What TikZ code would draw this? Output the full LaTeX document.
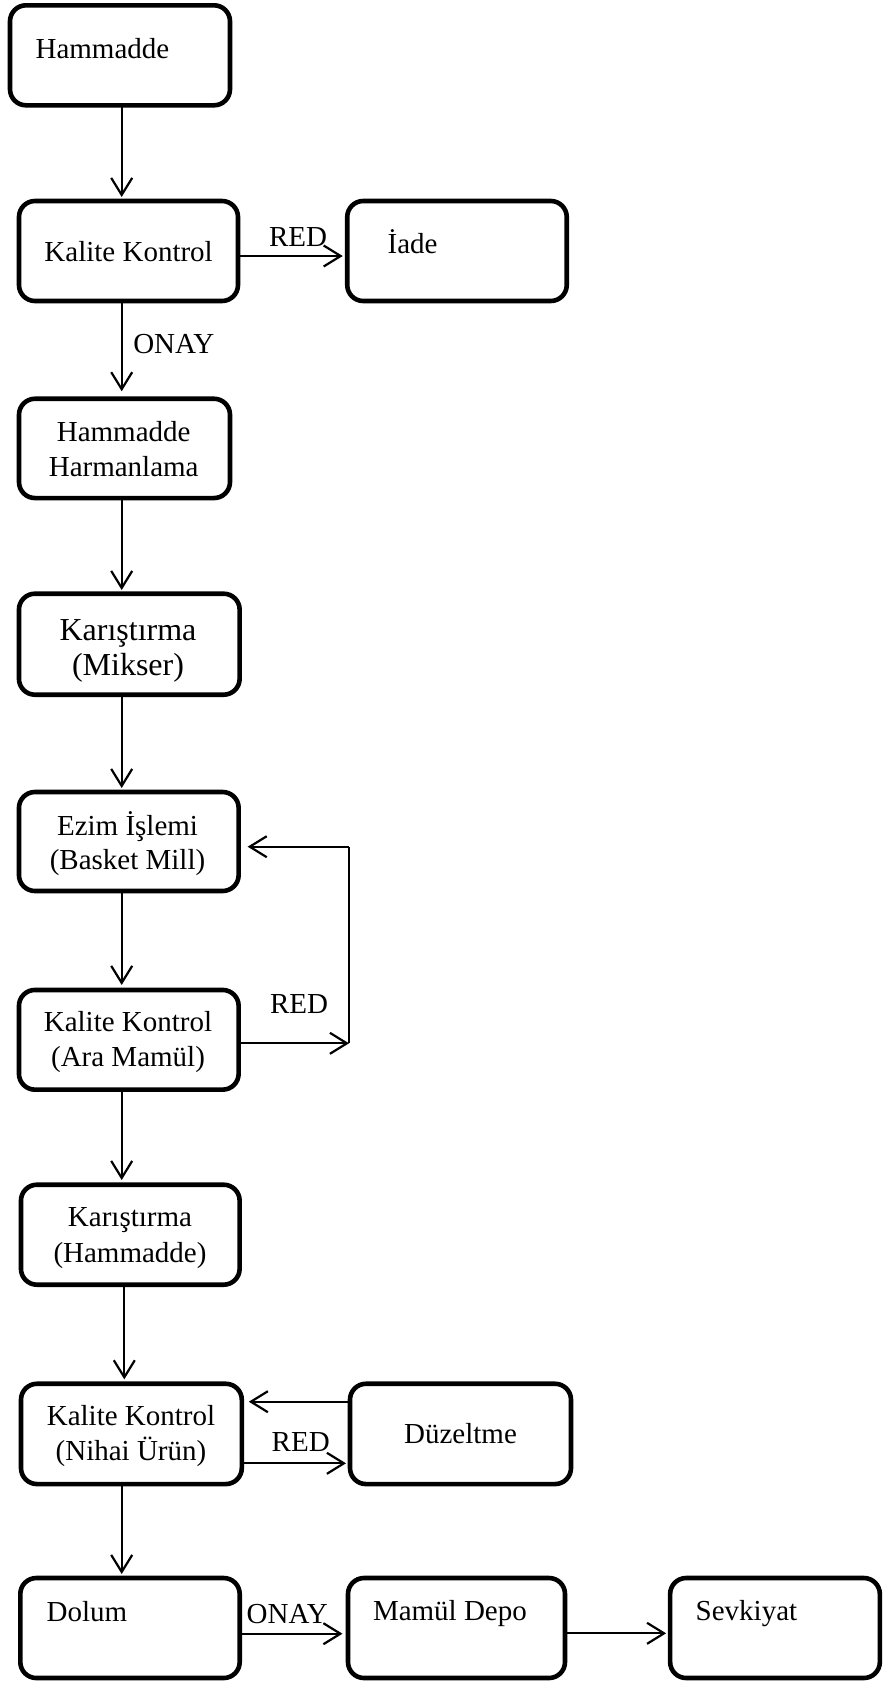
\documentclass[tikz,border=0pt]{standalone}
\usepackage{fontspec}
\setmainfont{Liberation Serif}
\usetikzlibrary{arrows.meta}
\begin{document}
\begin{tikzpicture}[x=1pt,y=-1pt,
  box/.style={draw, line width=4.6pt, rounded corners=16pt, fill=white,
              inner sep=0pt, outer sep=0pt},
  txt/.style={font=\fontsize{29}{35}\selectfont, inner sep=0pt, outer sep=0pt},
  bigtxt/.style={font=\fontsize{32}{35}\selectfont, inner sep=0pt, outer sep=0pt},
  link/.style={line width=2.2pt, -{Straight Barb[length=17pt,width=21pt]}},
  wire/.style={line width=2.2pt}]

% page
\path[use as bounding box, fill=white] (0,0) rectangle (883,1681);

% column of the main flow
\coordinate (colA) at (121.7,0);
\coordinate (colB) at (124.3,0);

% process boxes
\node[box, minimum width=220pt,   minimum height=100pt]   (ham)    at (120,55.3)   {};
\node[box, minimum width=219pt,   minimum height=100pt]   (kk)     at (128.5,251)  {};
\node[box, minimum width=219.5pt, minimum height=100pt]   (iade)   at (457,251)    {};
\node[box, minimum width=211pt,   minimum height=99.3pt]  (harm)   at (124.5,448.4){};
\node[box, minimum width=220.7pt, minimum height=101pt]   (mix)    at (129.3,644.2){};
\node[box, minimum width=219.7pt, minimum height=99pt]    (ezim)   at (128.8,841.5){};
\node[box, minimum width=219.7pt, minimum height=99.7pt]  (ara)    at (128.8,1039.8){};
\node[box, minimum width=218.7pt, minimum height=100pt]   (karham) at (130.3,1234.7){};
\node[box, minimum width=220.8pt, minimum height=100.3pt] (nihai)  at (131.4,1433.9){};
\node[box, minimum width=221pt,   minimum height=100.3pt] (duz)    at (460.5,1433.9){};
\node[box, minimum width=219.4pt, minimum height=100pt]   (dolum)  at (130,1628)   {};
\node[box, minimum width=217pt,   minimum height=100pt]   (depo)   at (456.5,1628) {};
\node[box, minimum width=209.7pt, minimum height=100pt]   (sevk)   at (775,1628)   {};

% box texts
\node[txt, anchor=base west] (tHam)   at (35.6,58.3)  {Hammadde};
\node[txt, anchor=base]      (tKk)    at (128.6,261.7){Kalite Kontrol};
\node[txt, anchor=base west] (tIade)  at (387.6,253.3){İade};
\node[txt, anchor=base]      (tHarmA) at (123.7,441.7){Hammadde};
\node[txt, anchor=base]      (tHarmB) at (123.7,476.7){Harmanlama};
\node[bigtxt, anchor=base]   (tMixA)  at (128,640)    {Karıştırma};
\node[bigtxt, anchor=base]   (tMixB)  at (128,675)    {(Mikser)};
\node[txt, anchor=base]      (tEzimA) at (127.5,835)  {Ezim İşlemi};
\node[txt, anchor=base]      (tEzimB) at (127.5,869.3){(Basket Mill)};
\node[txt, anchor=base]      (tAraA)  at (128,1031.7) {Kalite Kontrol};
\node[txt, anchor=base]      (tAraB)  at (128,1066.7) {(Ara Mamül)};
\node[txt, anchor=base]      (tKhA)   at (130,1226.7) {Karıştırma};
\node[txt, anchor=base]      (tKhB)   at (130,1262.7) {(Hammadde)};
\node[txt, anchor=base]      (tNhA)   at (131,1425)   {Kalite Kontrol};
\node[txt, anchor=base]      (tNhB)   at (131,1460)   {(Nihai Ürün)};
\node[txt, anchor=base]      (tDuz)   at (460.5,1443.3){Düzeltme};
\node[txt, anchor=base west] (tDolum) at (46.7,1621)  {Dolum};
\node[txt, anchor=base west] (tDepo)  at (373,1620)   {Mamül Depo};
\node[txt, anchor=base west] (tSevk)  at (695.7,1620) {Sevkiyat};

% connector labels
\node[txt, anchor=base west] (lRed1)  at (269,246.7)  {RED};
\node[txt, anchor=base west] (lOnay1) at (133.3,353.3){ONAY};
\node[txt, anchor=base west] (lRed2)  at (270,1013)   {RED};
\node[txt, anchor=base west] (lRed3)  at (271.7,1451.7){RED};
\node[txt, anchor=base west] (lOnay2) at (246.7,1623.3){ONAY};

% main vertical flow
\draw[link, shorten >=4pt]   (ham.south -| colA)    -- (kk.north -| colA);
\draw[link, shorten >=7.5pt] (kk.south -| colA)     -- (harm.north -| colA);
\draw[link, shorten >=3.7pt] (harm.south -| colA)   -- (mix.north -| colA);
\draw[link, shorten >=4pt]   (mix.south -| colA)    -- (ezim.north -| colA);
\draw[link, shorten >=5pt]   (ezim.south -| colA)   -- (ara.north -| colA);
\draw[link, shorten >=4.7pt] (ara.south -| colA)    -- (karham.north -| colA);
\draw[link, shorten >=4.4pt] (karham.south -| colB) -- (nihai.north -| colB);
\draw[link, shorten >=4pt]   (nihai.south -| colA)  -- (dolum.north -| colA);

% rejection to return
\draw[link, shorten >=4.5pt] ([yshift=-5pt]kk.east) -- ([yshift=-5pt]iade.west);

% intermediate product loop back to milling
\coordinate (loopLow)  at (349,1043.3);
\coordinate (loopHigh) at (349,846.7);
\draw[link] (ara.east |- loopLow) -- (loopLow);
\draw[wire] (loopLow) -- (loopHigh);
\draw[link] (loopHigh) -- ([xshift=9pt]ezim.east |- loopHigh);

% final product correction loop
\draw[link, shorten >=4pt] ([yshift=-29.4pt]nihai.east) -- ([yshift=-29.4pt]duz.west);
\draw[link, shorten >=7pt] ([yshift=32.2pt]duz.west) -- ([yshift=32.2pt]nihai.east);

% filling, storage, shipping
\draw[link, shorten >=5.5pt] ([yshift=-5.7pt]dolum.east) -- ([yshift=-5.7pt]depo.west);
\draw[link, shorten >=4pt]   ([yshift=-5.3pt,xshift=-2pt]depo.east) -- ([yshift=-5.3pt]sevk.west);
\end{tikzpicture}
\end{document}
